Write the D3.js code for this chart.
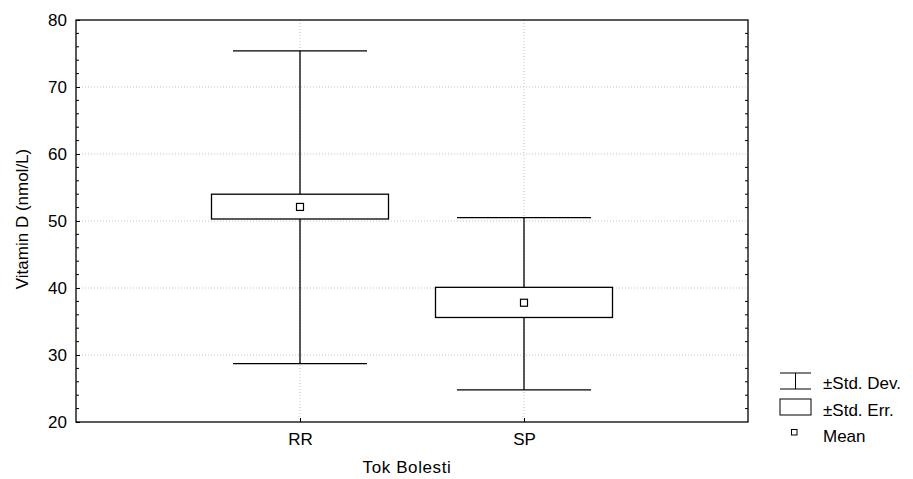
<!DOCTYPE html>
<html>
<head>
<meta charset="utf-8">
<script src="https://cdn.jsdelivr.net/npm/d3@7"></script>
<style>
  body { margin: 0; background: #fff; }
  text { font-family: "Liberation Sans", Arial, sans-serif; fill: #000; }
</style>
</head>
<body>
<div id="chart"></div>
<script>
const groups = ["RR", "SP"];
const means = [52.1, 37.8];
const seLow = [50.3, 35.6];
const seHigh = [54.0, 40.1];
const sdLow = [28.7, 24.8];
const sdHigh = [75.4, 50.5];
const yTicks = [20, 30, 40, 50, 60, 70, 80];

const width = 913;
const height = 479;
const margin = { top: 20, right: 165, bottom: 57, left: 76 };

const svg = d3
  .select("#chart")
  .append("svg")
  .attr("width", width)
  .attr("height", height);

const x = d3
  .scalePoint()
  .domain(groups)
  .range([margin.left, width - margin.right])
  .padding(1);

const y = d3
  .scaleLinear()
  .domain([20, 80])
  .range([height - margin.bottom, margin.top]);

const pLeft = margin.left;
const pRight = width - margin.right;
const pTop = margin.top;
const pBottom = height - margin.bottom;

// gridlines (dotted)
svg
  .append("g")
  .selectAll("line")
  .data(yTicks.slice(1, -1))
  .enter()
  .append("line")
  .attr("x1", pLeft)
  .attr("x2", pRight)
  .attr("y1", (d) => y(d))
  .attr("y2", (d) => y(d))
  .attr("stroke", "#c4c4c4")
  .attr("stroke-dasharray", "1,2");

svg
  .append("g")
  .selectAll("line")
  .data(groups)
  .enter()
  .append("line")
  .attr("x1", (d) => x(d))
  .attr("x2", (d) => x(d))
  .attr("y1", pTop)
  .attr("y2", pBottom)
  .attr("stroke", "#c4c4c4")
  .attr("stroke-dasharray", "1,2");

// minor ticks every 2 units, inside on left and right
const minor = d3.range(22, 80, 2).filter((d) => d % 10 !== 0);
[pLeft, pRight].forEach((xp, i) => {
  svg
    .append("g")
    .selectAll("line")
    .data(minor)
    .enter()
    .append("line")
    .attr("x1", xp)
    .attr("x2", i === 0 ? xp + 3 : xp - 3)
    .attr("y1", (d) => y(d))
    .attr("y2", (d) => y(d))
    .attr("stroke", "#000");
});

// axes
const yAxis = svg
  .append("g")
  .attr("transform", `translate(${pLeft},0)`)
  .call(d3.axisLeft(y).tickValues(yTicks).tickSize(-4).tickPadding(9));
yAxis.select(".domain").remove();
yAxis.selectAll("text").style("font-size", "17px");

const xAxis = svg
  .append("g")
  .attr("transform", `translate(0,${pBottom})`)
  .call(d3.axisBottom(x).tickSize(-4).tickPadding(11));
xAxis.select(".domain").remove();
xAxis.selectAll("text").style("font-size", "17px");

svg
  .append("rect")
  .attr("x", pLeft)
  .attr("y", pTop)
  .attr("width", pRight - pLeft)
  .attr("height", pBottom - pTop)
  .attr("fill", "none")
  .attr("stroke", "#000")
  .attr("stroke-width", 1.3);

// whiskers
const capW = 134;
const boxW = 177;
const data = groups.map((g, i) => ({
  g,
  mean: means[i],
  seLow: seLow[i],
  seHigh: seHigh[i],
  sdLow: sdLow[i],
  sdHigh: sdHigh[i],
}));

const marks = svg.append("g");
marks
  .selectAll(".whisker")
  .data(data)
  .enter()
  .append("line")
  .attr("x1", (d) => x(d.g))
  .attr("x2", (d) => x(d.g))
  .attr("y1", (d) => y(d.sdLow))
  .attr("y2", (d) => y(d.sdHigh))
  .attr("stroke", "#000")
  .attr("stroke-width", 1.3);

["sdLow", "sdHigh"].forEach((k) => {
  marks
    .selectAll(".cap-" + k)
    .data(data)
    .enter()
    .append("line")
    .attr("x1", (d) => x(d.g) - capW / 2)
    .attr("x2", (d) => x(d.g) + capW / 2)
    .attr("y1", (d) => y(d[k]))
    .attr("y2", (d) => y(d[k]))
    .attr("stroke", "#000")
    .attr("stroke-width", 1.3);
});

marks
  .selectAll(".box")
  .data(data)
  .enter()
  .append("rect")
  .attr("x", (d) => x(d.g) - boxW / 2)
  .attr("y", (d) => y(d.seHigh))
  .attr("width", boxW)
  .attr("height", (d) => y(d.seLow) - y(d.seHigh))
  .attr("fill", "#fff")
  .attr("stroke", "#000")
  .attr("stroke-width", 1.3);

marks
  .selectAll(".mean")
  .data(data)
  .enter()
  .append("rect")
  .attr("x", (d) => x(d.g) - 3.5)
  .attr("y", (d) => y(d.mean) - 3.5)
  .attr("width", 7)
  .attr("height", 7)
  .attr("fill", "#fff")
  .attr("stroke", "#000")
  .attr("stroke-width", 1.2);

// axis titles
svg
  .append("text")
  .attr("text-anchor", "middle")
  .attr("transform", "rotate(-90)")
  .attr("x", -219)
  .attr("y", 28)
  .style("font-size", "17px")
  .text("Vitamin D (nmol/L)");

svg
  .append("text")
  .attr("text-anchor", "middle")
  .attr("x", 407)
  .attr("y", 473)
  .style("font-size", "17px")
  .style("letter-spacing", "0.6px")
  .text("Tok Bolesti");

// legend
const lg = svg.append("g").attr("transform", "translate(780,0)");
lg.append("line").attr("x1", 0).attr("x2", 31).attr("y1", 373).attr("y2", 373).attr("stroke", "#000");
lg.append("line").attr("x1", 0).attr("x2", 31).attr("y1", 389).attr("y2", 389).attr("stroke", "#000");
lg.append("line").attr("x1", 15.5).attr("x2", 15.5).attr("y1", 373).attr("y2", 389).attr("stroke", "#000");
lg.append("rect").attr("x", 0).attr("y", 399).attr("width", 31).attr("height", 16)
  .attr("fill", "#fff").attr("stroke", "#000");
lg.append("rect").attr("x", 11.5).attr("y", 429.5).attr("width", 5.5).attr("height", 5.5)
  .attr("fill", "#fff").attr("stroke", "#000");

const legendLabels = ["±Std. Dev.", "±Std. Err.", "Mean"];
lg.selectAll(".lt")
  .data(legendLabels)
  .enter()
  .append("text")
  .attr("x", 43)
  .attr("y", (d, i) => 389 + i * 26.5)
  .style("font-size", "17px")
  .text((d) => d);
</script>
</body>
</html>
